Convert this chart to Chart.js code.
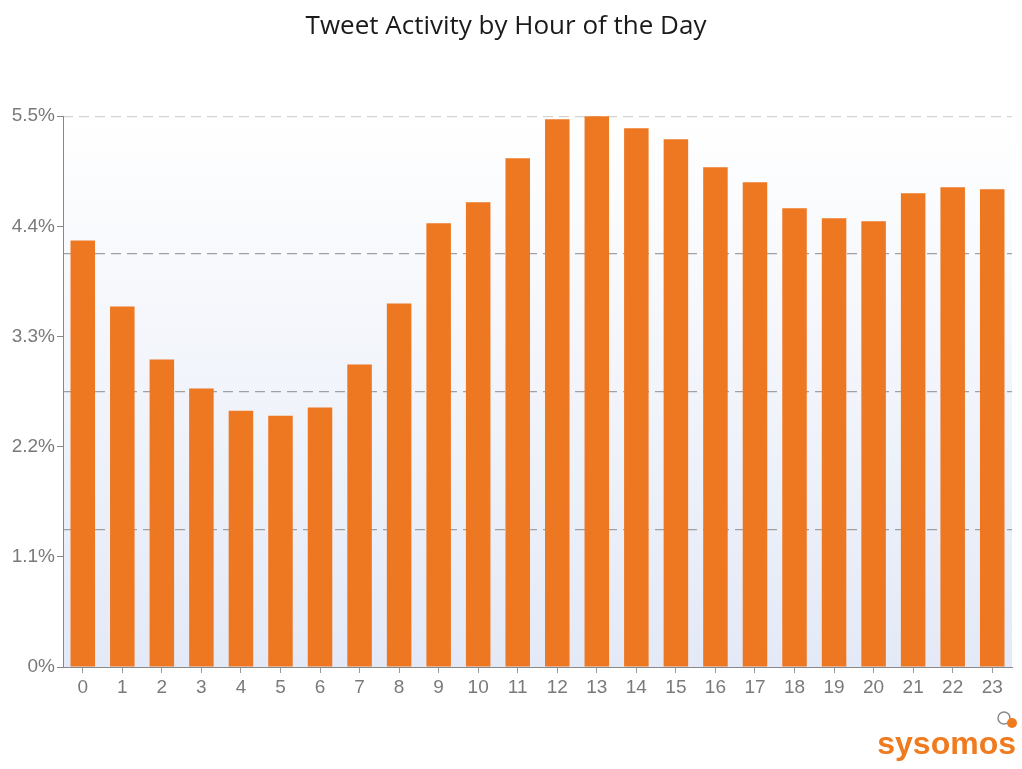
<!DOCTYPE html>
<html>
<head>
<meta charset="utf-8">
<script src="https://cdn.jsdelivr.net/npm/chart.js@4"></script>
<style>
  html, body { margin: 0; padding: 0; background: #fff; }
  #wrap { width: 1022px; height: 769px; }
</style>
</head>
<body>
<div id="wrap"><canvas id="chart"></canvas></div>
<script>
const hours = ["0","1","2","3","4","5","6","7","8","9","10","11","12","13","14","15","16","17","18","19","20","21","22","23"];
const activity = [4.26, 3.60, 3.07, 2.78, 2.56, 2.51, 2.59, 3.02, 3.63, 4.43, 4.64, 5.08, 5.47, 5.51, 5.38, 5.27, 4.99, 4.84, 4.58, 4.48, 4.45, 4.73, 4.79, 4.77];
const yTickValues = [0, 1.1, 2.2, 3.3, 4.4, 5.5];
const gridValues = [1.375, 2.75, 4.125, 5.5];

// gradient behind the plot area
const plotBackground = {
  id: "plotBackground",
  beforeDraw(chart) {
    const { ctx, chartArea: a } = chart;
    const g = ctx.createLinearGradient(0, a.top, 0, a.bottom);
    g.addColorStop(0, "#ffffff");
    g.addColorStop(1, "#e3e9f6");
    ctx.save();
    ctx.fillStyle = g;
    ctx.fillRect(a.left, a.top, a.right - a.left, a.bottom - a.top);
    ctx.restore();
  }
};

// sysomos logo bottom right
const logo = {
  id: "logo",
  afterDraw(chart) {
    const ctx = chart.ctx;
    ctx.save();
    ctx.fillStyle = "#f07a1e";
    ctx.font = "bold 32px 'Liberation Sans', Arial, sans-serif";
    ctx.textAlign = "right";
    ctx.textBaseline = "alphabetic";
    ctx.fillText("sysomos", 1016, 754);
    ctx.strokeStyle = "#8a8a8a";
    ctx.lineWidth = 1.5;
    ctx.beginPath();
    ctx.arc(1004, 718, 6, 0, Math.PI * 2);
    ctx.stroke();
    ctx.fillStyle = "#f07a1e";
    ctx.beginPath();
    ctx.arc(1012, 723, 5, 0, Math.PI * 2);
    ctx.fill();
    ctx.restore();
  }
};

new Chart(document.getElementById("chart"), {
  type: "bar",
  data: {
    labels: hours,
    datasets: [{
      data: activity,
      backgroundColor: "#ee7722",
      borderWidth: 0,
      barPercentage: 0.62,
      categoryPercentage: 1
    }]
  },
  plugins: [plotBackground, logo],
  options: {
    responsive: true,
    maintainAspectRatio: false,
    animation: false,
    layout: { padding: { left: 0, right: 10, top: 0, bottom: 72 } },
    plugins: {
      legend: { display: false },
      tooltip: { enabled: false },
      title: {
        display: true,
        text: "Tweet Activity by Hour of the Day",
        color: "#1a1a1a",
        font: { family: "'Open Sans', sans-serif", size: 26, weight: "normal" },
        padding: { top: 11, bottom: 74 }
      }
    },
    scales: {
      x: {
        offset: true,
        grid: { drawOnChartArea: false, drawTicks: true, tickLength: 6, color: "#999", offset: false },
        border: { color: "#888" },
        ticks: { color: "#7a7a7a", font: { family: "'Liberation Sans', Arial, sans-serif", size: 19 }, padding: 3 },
        afterFit: s => { s.height = 30; }
      },
      y: {
        min: 0,
        max: 5.5,
        afterBuildTicks: s => { s.ticks = yTickValues.map(v => ({ value: v })); },
        grid: { drawOnChartArea: false, drawTicks: true, tickLength: 6, color: "#888" },
        border: { color: "#888" },
        ticks: {
          color: "#7a7a7a",
          font: { family: "'Liberation Sans', Arial, sans-serif", size: 19 },
          padding: 2,
          callback: v => (v === 0 ? "0" : v.toFixed(1)) + "%"
        },
        afterFit: s => { s.width = 63; }
      },
      y2: {
        position: "left",
        min: 0,
        max: 5.5,
        afterBuildTicks: s => { s.ticks = gridValues.map(v => ({ value: v })); },
        grid: {
          drawTicks: false,
          color: c => (c.tick && c.tick.value === 5.5 ? "#d4d4d4" : "#a0a0a0"),
          lineWidth: 1.2
        },
        border: { display: false, dash: [10, 6] },
        ticks: { display: false },
        afterFit: s => { s.width = 0; }
      }
    }
  }
});
</script>
</body>
</html>
